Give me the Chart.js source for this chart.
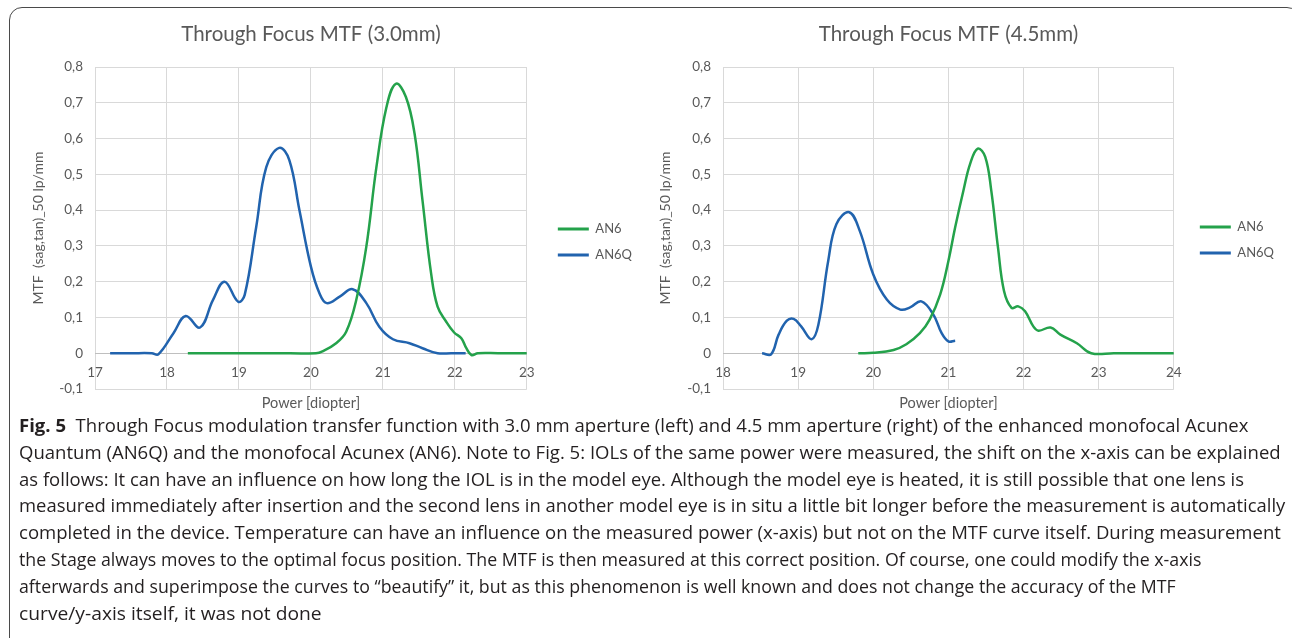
<!DOCTYPE html>
<html>
<head>
<meta charset="utf-8">
<script src="https://cdn.jsdelivr.net/npm/chart.js@4.4.1/dist/chart.umd.min.js"></script>
<style>
  html, body { margin: 0; padding: 0; background: #fff; }
  body { width: 1292px; height: 638px; position: relative; overflow: hidden; }
  #frame { position: absolute; left: 9px; top: 7px; width: 1291px; height: 660px; border: 1.5px solid #4a4a4a; border-radius: 13px; box-sizing: border-box; }
  .wrap { position: absolute; top: 0; }
  #caption { position: absolute; left: 19px; top: 412px; font-family: "Open Sans", sans-serif; font-size: 17.5px; line-height: 26.8px; color: #231f20; }
  #caption .ln { display: block; white-space: nowrap; width: max-content; transform-origin: 0 50%; }
  #caption b { font-weight: 700; }
</style>
</head>
<body>
<div id="frame"></div>
<div class="wrap" style="left:0px"><canvas id="mtf30" width="642" height="413"></canvas></div>
<div class="wrap" style="left:646px"><canvas id="mtf45" width="638" height="413"></canvas></div>
<div id="caption"></div>

<script>
// --- dados ---
const seriesNames = ['AN6', 'AN6Q'];
const yTicks = [-0.1, 0, 0.1, 0.2, 0.3, 0.4, 0.5, 0.6, 0.7, 0.8];
const xTicks30 = [17, 18, 19, 20, 21, 22, 23];
const xTicks45 = [18, 19, 20, 21, 22, 23, 24];

// 3.0 mm
const an6x30 = [18.29, 19.0, 19.5, 20.07, 20.16, 20.35, 20.49, 20.63, 20.77, 20.91, 21.05, 21.18, 21.32, 21.44, 21.55, 21.67, 21.76, 21.88, 21.99, 22.09, 22.16, 22.23, 22.32, 22.6, 23.0];
const an6y30 = [0, 0, 0, 0, 0.005, 0.028, 0.06, 0.149, 0.298, 0.52, 0.688, 0.753, 0.716, 0.614, 0.428, 0.223, 0.130, 0.088, 0.058, 0.042, 0.014, -0.005, 0, 0, 0];
const an6qx30 = [17.21, 17.5, 17.79, 17.88, 18.09, 18.26, 18.46, 18.64, 18.80, 18.99, 19.08, 19.24, 19.38, 19.56, 19.70, 19.84, 20.0, 20.12, 20.22, 20.40, 20.58, 20.77, 20.95, 21.14, 21.37, 21.55, 21.76, 21.95, 22.15];
const an6qy30 = [0, 0, 0, -0.003, 0.056, 0.104, 0.072, 0.149, 0.200, 0.144, 0.163, 0.353, 0.52, 0.574, 0.54, 0.40, 0.242, 0.167, 0.140, 0.158, 0.179, 0.14, 0.074, 0.039, 0.028, 0.014, 0, 0, 0];

// 4.5 mm
const an6x45 = [19.80, 20.0, 20.27, 20.44, 20.62, 20.75, 20.89, 21.0, 21.09, 21.20, 21.29, 21.39, 21.49, 21.57, 21.66, 21.74, 21.84, 21.93, 22.02, 22.13, 22.20, 22.36, 22.49, 22.71, 22.90, 23.2, 23.6, 24.0];
const an6y45 = [0, 0.001, 0.009, 0.025, 0.056, 0.094, 0.164, 0.258, 0.352, 0.455, 0.53, 0.572, 0.549, 0.455, 0.295, 0.174, 0.127, 0.131, 0.117, 0.075, 0.063, 0.072, 0.052, 0.028, 0, 0, 0, 0];
const an6qx45 = [18.52, 18.64, 18.74, 18.85, 18.94, 19.04, 19.18, 19.27, 19.40, 19.51, 19.68, 19.82, 20.0, 20.18, 20.36, 20.49, 20.64, 20.80, 20.91, 21.0, 21.09];
const an6qy45 = [0, -0.003, 0.052, 0.091, 0.096, 0.075, 0.039, 0.080, 0.258, 0.361, 0.394, 0.342, 0.220, 0.150, 0.122, 0.128, 0.145, 0.108, 0.056, 0.033, 0.035];

const GREEN = '#24a24b';
const BLUE = '#2163ae';
const GRID = '#d9d9d9';
const TXT = '#595959';

Chart.defaults.font.family = 'Lato, "Open Sans", sans-serif';
Chart.defaults.color = TXT;

function pts(xs, ys) {
    return xs.map((x, i) => ({ x: x, y: ys[i] }));
}

function linha(label, data, cor) {
    return { label: label, data: data, borderColor: cor, backgroundColor: cor, showLine: true, pointRadius: 0, borderWidth: 2.5, tension: 0.4 };
}

function makeChart(id, cfg) {
    const fixTicks = arr => scale => { scale.ticks = arr.map(v => ({ value: v })); };
    return new Chart(document.getElementById(id), {
        type: 'scatter',
        data: {
            datasets: [
                linha(seriesNames[0], pts(cfg.an6x, cfg.an6y), GREEN),
                linha(seriesNames[1], pts(cfg.an6qx, cfg.an6qy), BLUE)
            ]
        },
        options: {
            responsive: false,
            animation: false,
            layout: { padding: { left: cfg.padLeft, top: 0, right: 0, bottom: 0 } },
            plugins: {
                tooltip: { enabled: false },
                title: { display: true, text: cfg.title, fullSize: false, color: TXT, font: { size: 20.5, weight: 'normal' }, padding: { top: 21.7, bottom: 20.7 } },
                legend: {
                    position: 'right',
                    fullSize: false,
                    title: { display: true, text: ' ', font: { size: 10 }, padding: { top: cfg.legendShift, bottom: 0 } },
                    labels: {
                        boxWidth: 31, boxHeight: 3, padding: 13, color: TXT, font: { size: 13 },
                        generateLabels: chart => Chart.defaults.plugins.legend.labels.generateLabels(chart).map(it => Object.assign(it, { lineWidth: 0 }))
                    }
                }
            },
            scales: {
                x: {
                    type: 'linear', position: 'bottom', min: cfg.xTicks[0], max: cfg.xTicks[cfg.xTicks.length - 1],
                    afterBuildTicks: fixTicks(cfg.xTicks),
                    ticks: { display: false },
                    grid: { color: GRID, drawTicks: false },
                    border: { display: false },
                    title: { display: true, text: 'Power [diopter]', color: TXT, font: { size: 14.5 }, padding: { top: 0, bottom: 1.3 } },
                    afterFit: s => { s.height = 24; }
                },
                x0: {
                    type: 'linear', position: { y: 0 }, min: cfg.xTicks[0], max: cfg.xTicks[cfg.xTicks.length - 1],
                    afterBuildTicks: fixTicks(cfg.xTicks),
                    ticks: { color: TXT, font: { size: 13.5 }, padding: 11 },
                    grid: { display: false, drawTicks: false },
                    border: { display: true, color: '#bfbfbf', width: 1 },
                    afterFit: s => { s.height = 0; }
                },
                y: {
                    type: 'linear', min: -0.1, max: 0.8,
                    afterBuildTicks: fixTicks(yTicks),
                    ticks: { color: TXT, font: { size: 13.5 }, padding: 12, callback: v => String(v).replace('.', ',') },
                    grid: { color: GRID, drawTicks: false },
                    border: { display: false },
                    title: { display: true, text: 'MTF  (sag,tan)_50 lp/mm', color: TXT, font: { size: 14 }, padding: { top: cfg.yTitlePad, bottom: 0 } },
                    afterFit: s => { s.width = cfg.yWidth; }
                },
                y2: {
                    type: 'linear', position: 'right', display: true,
                    ticks: { display: false },
                    grid: { display: false, drawTicks: false },
                    border: { display: false },
                    afterFit: s => { s.width = cfg.gapRight; }
                }
            }
        }
    });
}

makeChart('mtf30', {
    title: 'Through Focus MTF (3.0mm)', xTicks: xTicks30,
    an6x: an6x30, an6y: an6y30, an6qx: an6qx30, an6qy: an6qy30,
    padLeft: 16, yWidth: 79, yTitlePad: 13.6, gapRight: 18, legendShift: 16
});
makeChart('mtf45', {
    title: 'Through Focus MTF (4.5mm)', xTicks: xTicks45,
    an6x: an6x45, an6y: an6y45, an6qx: an6qx45, an6qy: an6qy45,
    padLeft: 0, yWidth: 77, yTitlePad: 10.6, gapRight: 13, legendShift: 12
});

// --- legenda da figura ---
const captionLines = [
    '<b>Fig. 5</b>&nbsp; Through Focus modulation transfer function with 3.0 mm aperture (left) and 4.5 mm aperture (right) of the enhanced monofocal Acunex',
    'Quantum (AN6Q) and the monofocal Acunex (AN6). Note to Fig. 5: IOLs of the same power were measured, the shift on the x-axis can be explained',
    'as follows: It can have an influence on how long the IOL is in the model eye. Although the model eye is heated, it is still possible that one lens is',
    'measured immediately after insertion and the second lens in another model eye is in situ a little bit longer before the measurement is automatically',
    'completed in the device. Temperature can have an influence on the measured power (x-axis) but not on the MTF curve itself. During measurement',
    'the Stage always moves to the optimal focus position. The MTF is then measured at this correct position. Of course, one could modify the x-axis',
    'afterwards and superimpose the curves to \u201cbeautify\u201d it, but as this phenomenon is well known and does not change the accuracy of the MTF',
    'curve/y-axis itself, it was not done'
];
const captionEnds = [1248, 1281, 1244, 1285, 1281, 1200, 1063, 334];

const cap = document.getElementById('caption');
const spans = captionLines.map(t => {
    const d = document.createElement('span');
    d.className = 'ln';
    d.innerHTML = t;
    cap.appendChild(d);
    return d;
});

// uma escala comum para todas as linhas, com pequena correção por linha
function ajustarLinhas() {
    spans.forEach(d => { d.style.transform = 'none'; });
    const ratios = spans.map((d, i) => (captionEnds[i] - 19) / d.scrollWidth);
    const ordenado = ratios.slice(0, 6).sort((a, b) => a - b);
    const base = (ordenado[2] + ordenado[3]) / 2;
    spans.forEach((d, i) => {
        const r = Math.min(Math.max(ratios[i], base * 0.96), base * 1.04);
        d.style.transform = 'scaleX(' + r.toFixed(4) + ')';
    });
}
ajustarLinhas();
if (document.fonts && document.fonts.ready) document.fonts.ready.then(ajustarLinhas);
</script>
</body>
</html>
